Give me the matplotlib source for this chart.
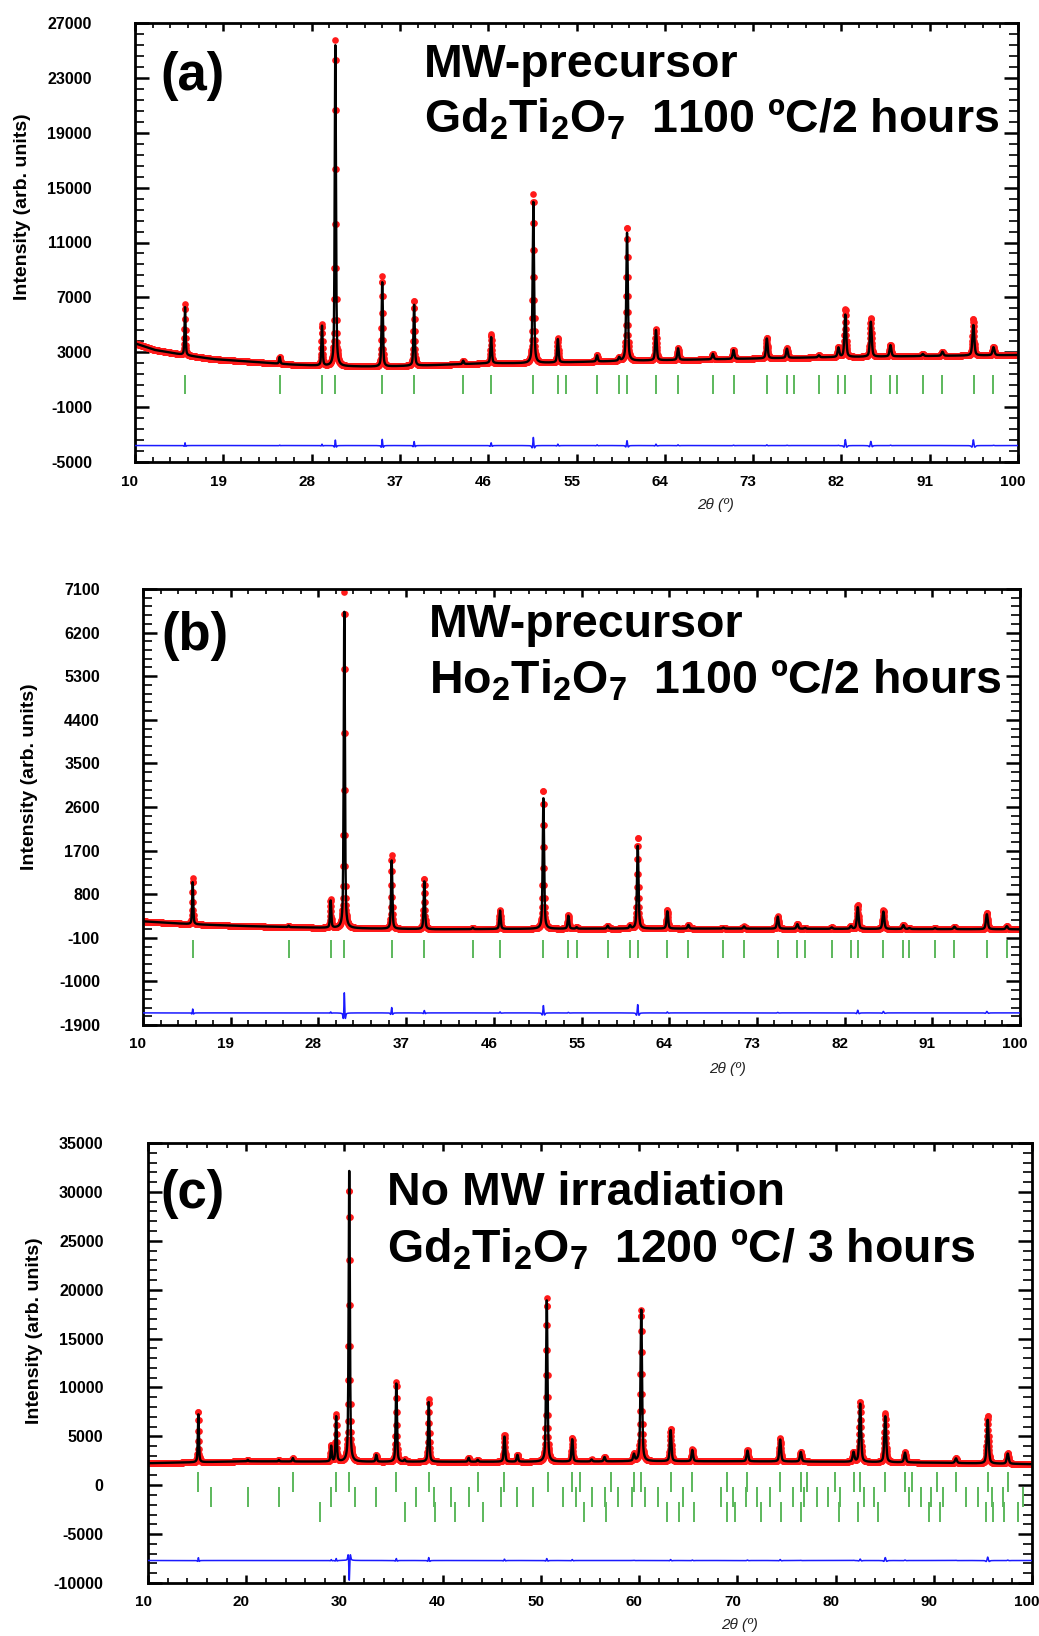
import numpy as np
import matplotlib
matplotlib.use('Agg')
import matplotlib.pyplot as plt
import matplotlib.transforms as mtrans
from matplotlib.ticker import FixedLocator

plt.rcParams['font.family'] = ['Liberation Sans', 'DejaVu Sans']
plt.rcParams['mathtext.fontset'] = 'custom'
plt.rcParams['mathtext.rm'] = 'Liberation Sans:bold'
plt.rcParams['mathtext.it'] = 'Liberation Sans:bold'
plt.rcParams['mathtext.bf'] = 'Liberation Sans:bold'
plt.rcParams['mathtext.default'] = 'rm'
plt.rcParams['axes.unicode_minus'] = False

# ---------------- Panel (a): MW-precursor Gd2Ti2O7 1100 C / 2 h ----------------
a_pos = [15.10, 24.75, 29.06, 30.42, 35.20, 38.45, 43.45, 46.30, 50.60, 53.10,
         57.10, 59.35, 60.15, 63.10, 65.35, 68.90, 71.00, 74.40, 76.45, 79.70,
         81.70, 82.40, 85.00, 87.00, 90.30, 92.30, 95.45, 97.50]
a_obs = [3700, 530, 3000, 23800, 6600, 4800, 250, 2100, 12340, 1800,
         500, 250, 9780, 2300, 900, 400, 680, 1500, 700, 150,
         700, 3520, 2850, 850, 150, 300, 2650, 610]
a_calc = [3500, 500, 2900, 23400, 6150, 4500, 250, 1900, 11750, 1700,
          450, 250, 9420, 2200, 850, 400, 650, 1450, 680, 150,
          680, 3090, 2550, 820, 150, 300, 2230, 590]
a_bg_x = [10, 12, 15, 18, 22, 26, 30, 35, 40, 46, 50, 60, 70, 80, 90, 100]
a_bg_y = [3650, 3170, 2800, 2500, 2300, 2100, 1980, 1950, 2050, 2200, 2200, 2370, 2500, 2630, 2720, 2800]
a_bragg = [15.10, 24.78, 29.06, 30.42, 35.20, 38.45, 43.45, 46.30, 50.60, 53.10,
           53.90, 57.10, 59.35, 60.10, 63.10, 65.35, 68.90, 71.04, 74.40, 76.50,
           77.20, 79.70, 81.70, 82.40, 85.00, 87.00, 87.70, 90.30, 92.30, 95.50, 97.50]
a_diff_offset = -3800
a_xticks = [10, 19, 28, 37, 46, 55, 64, 73, 82, 91, 100]
a_yticks = [-5000, -1000, 3000, 7000, 11000, 15000, 19000, 23000, 27000]

# ---------------- Panel (b): MW-precursor Ho2Ti2O7 1100 C / 2 h ----------------
b_pos = [15.10, 24.95, 29.26, 30.66, 35.52, 38.87, 43.84, 46.64, 51.09, 53.65,
         54.50, 57.69, 59.98, 60.77, 63.81, 65.97, 69.56, 71.68, 75.14, 77.15,
         77.94, 80.68, 82.66, 83.35, 85.98, 88.03, 88.65, 91.28, 93.27, 96.60, 98.65]
b_obs = [950, 30, 580, 6944, 1520, 1050, 30, 400, 2880, 280,
         30, 60, 60, 1900, 380, 75, 20, 45, 260, 95,
         20, 30, 60, 505, 390, 80, 20, 20, 50, 340, 65]
b_calc = [870, 30, 560, 6530, 1410, 1000, 30, 380, 2725, 270,
          30, 60, 60, 1725, 360, 75, 20, 45, 250, 95,
          20, 30, 60, 450, 360, 80, 20, 20, 50, 310, 65]
b_bg_x = [10, 12, 15, 20, 25, 30, 40, 50, 60, 70, 80, 90, 100]
b_bg_y = [240, 215, 180, 145, 120, 100, 75, 85, 90, 90, 85, 80, 75]
b_bragg = b_pos
b_diff_offset = -1650
b_xticks = [10, 19, 28, 37, 46, 55, 64, 73, 82, 91, 100]
b_yticks = [-1900, -1000, -100, 800, 1700, 2600, 3500, 4400, 5300, 6200, 7100]

# ---------------- Panel (c): No MW irradiation Gd2Ti2O7 1200 C / 3 h ----------------
c_pos = [15.13, 20.16, 23.32, 24.75, 28.65, 29.16, 30.49, 33.24, 35.28, 36.13,
         38.58, 42.65, 43.57, 46.29, 47.61, 50.60, 53.19, 55.16, 56.48, 59.47,
         60.22, 63.21, 65.42, 71.03, 74.36, 76.46, 81.83, 82.51, 85.06, 87.07,
         92.26, 95.49, 97.53]
c_obs = [5300, 150, 150, 350, 1700, 4800, 28100, 700, 8200, 200,
         6400, 400, 200, 2740, 700, 16700, 2400, 200, 450, 700,
         15500, 3300, 1200, 1150, 2350, 1000, 1000, 6150, 5000, 1050,
         500, 4850, 1100]
c_calc = [5000, 150, 150, 350, 1600, 4600, 30200, 700, 8000, 200,
          6100, 400, 200, 2600, 700, 16500, 2300, 200, 450, 680,
          15500, 3200, 1150, 1100, 2250, 980, 980, 6000, 4700, 1000,
          480, 4500, 1050]
c_bg_x = [10, 20, 30, 40, 50, 60, 70, 80, 90, 100]
c_bg_y = [2250, 2450, 2400, 2400, 2400, 2450, 2450, 2400, 2300, 2150]
c_bragg1 = [15.13, 24.75, 29.16, 30.49, 35.28, 38.58, 43.57, 46.29, 50.71, 53.19,
            53.97, 57.17, 59.47, 60.22, 63.21, 65.42, 68.99, 71.03, 74.36, 76.46,
            77.14, 79.93, 81.83, 82.51, 85.06, 87.07, 87.78, 90.33, 92.26, 95.49, 97.53]
c_bragg2 = [16.42, 20.16, 23.32, 28.65, 31.03, 33.24, 37.25, 39.15, 40.89, 42.65,
            45.98, 47.61, 49.21, 52.24, 53.60, 55.16, 56.48, 57.84, 59.24, 60.60,
            61.92, 64.50, 68.31, 69.60, 70.86, 72.05, 73.34, 75.65, 76.74, 78.10,
            79.25, 80.47, 82.85, 83.94, 87.50, 88.70, 89.71, 90.90, 93.28, 94.47,
            95.90, 97.02, 99.06]
c_bragg3 = [27.53, 36.13, 39.19, 41.30, 44.12, 54.40, 56.59, 62.80, 64.06, 65.59,
            68.99, 69.74, 72.39, 74.42, 76.53, 80.37, 82.31, 84.28, 89.54, 90.66,
            95.32, 96.07, 97.19, 98.55]
c_diff_offset = -7700
c_xticks = [10, 20, 30, 40, 50, 60, 70, 80, 90, 100]
c_yticks = [-10000, -5000, 0, 5000, 10000, 15000, 20000, 25000, 30000, 35000]

# ---------------- helpers ----------------
W, H = 1039, 1636
fig = plt.figure(figsize=(W / 100, H / 100), dpi=100)

RED = '#ff1a1a'
GREEN = '#5cb85c'
BLUE = '#1a1aff'


def pv(x, x0, h, w, eta=0.5):
    d = (x - x0) / (w / 2.0)
    return h * (eta / (1 + d ** 2) + (1 - eta) * np.exp(-np.log(2) * d ** 2))


def patterns(tt, pos, obs, calc, bgx, bgy):
    bg = np.interp(tt, bgx, bgy)
    yo = bg.copy()
    yc = bg.copy()
    for p, ho, hc in zip(pos, obs, calc):
        wc = 0.11 + 0.0012 * p
        wo = wc * hc / ho
        yo += pv(tt, p, ho, wo)
        yc += pv(tt, p, hc, wc)
    return yo, yc


def axes_px(l, r, t, b):
    return fig.add_axes([l / W, 1 - b / H, (r - l) / W, (b - t) / H])


def style(ax, xticks, nxmin, yticks, nymin, ypad):
    for s in ax.spines.values():
        s.set_linewidth(2.0)
    xt = np.array(xticks, float)
    yt = np.array(yticks, float)
    dx = (xt[1] - xt[0]) / nxmin
    dy = (yt[1] - yt[0]) / nymin
    ax.xaxis.set_major_locator(FixedLocator(xt))
    ax.xaxis.set_minor_locator(FixedLocator(np.arange(xt[0], xt[-1] + 1e-9, dx)))
    ax.yaxis.set_major_locator(FixedLocator(yt))
    ax.yaxis.set_minor_locator(FixedLocator(np.arange(yt[0], yt[-1] + 1e-9, dy)))
    ax.set_xticklabels([f'{v:g}' for v in xt])
    ax.set_yticklabels([f'{v:g}' for v in yt])
    ax.tick_params(which='both', direction='in', top=True, right=True)
    ax.tick_params(axis='x', which='major', length=6, width=1.8, pad=9)
    ax.tick_params(axis='x', which='minor', length=3.5, width=1.2)
    ax.tick_params(axis='y', which='major', length=10, width=1.8, pad=ypad)
    ax.tick_params(axis='y', which='minor', length=6.5, width=1.2)
    shift = mtrans.ScaledTranslation(-5 / 100, 0, fig.dpi_scale_trans)
    for lab in ax.get_xticklabels():
        lab.set_fontweight('bold')
        lab.set_fontsize(11)
        lab.set_transform(lab.get_transform() + shift)
    for lab in ax.get_yticklabels():
        lab.set_fontweight('bold')
        lab.set_fontsize(11.5)


tt = np.arange(10.0, 100.0001, 0.02)


def panel(ax, pos, obs, calc, bgx, bgy, offset, bragg_rows):
    yo, yc = patterns(tt, pos, obs, calc, bgx, bgy)
    ax.plot(tt, yo, 'o', ms=4.8, color=RED, mec='none', zorder=2)
    ax.plot(tt, yc, '-', color='black', lw=1.7, zorder=3)
    ax.plot(tt, yo - yc + offset, '-', color=BLUE, lw=1.1, zorder=3)
    for xs, lo, hi in bragg_rows:
        ax.vlines(xs, lo, hi, color=GREEN, lw=1.4, zorder=2)
    ax.set_xlim(10, 100)


def ftext(x, y, s, **kw):
    fig.text(x / W, 1 - y / H, s, **kw)


# ---------------- (a) ----------------
axa = axes_px(135, 1018, 23, 462)
panel(axa, a_pos, a_obs, a_calc, a_bg_x, a_bg_y, a_diff_offset, [(a_bragg, -40, 1340)])
axa.set_ylim(-5000, 27000)
style(axa, a_xticks, 5, a_yticks, 5, 31)

# ---------------- (b) ----------------
axb = axes_px(143, 1020, 589, 1025)
panel(axb, b_pos, b_obs, b_calc, b_bg_x, b_bg_y, b_diff_offset, [(b_bragg, -520, -150)])
axb.set_ylim(-1900, 7100)
style(axb, b_xticks, 5, b_yticks, 5, 31)

# ---------------- (c) ----------------
axc = axes_px(148, 1032, 1143, 1583)
panel(axc, c_pos, c_obs, c_calc, c_bg_x, c_bg_y, c_diff_offset,
      [(c_bragg1, -650, 1400), (c_bragg2, -2200, -150), (c_bragg3, -3730, -1700)])
axc.set_ylim(-10000, 35000)
style(axc, c_xticks, 5, c_yticks, 5, 32)

# ---------------- texts ----------------
big = dict(fontsize=33.5, fontweight='bold', ha='left', va='baseline')
lab = dict(fontsize=38, fontweight='bold', ha='left', va='baseline')

ftext(160, 90, '(a)', **lab)
ftext(424, 77, 'MW-precursor', **big)
ftext(424, 133, 'Gd$_2$Ti$_2$O$_7$  1100 ºC/2 hours', **big)

ftext(161, 650, '(b)', **lab)
ftext(429, 637, 'MW-precursor', **big)
ftext(429, 693, 'Ho$_2$Ti$_2$O$_7$  1100 ºC/2 hours', **big)

ftext(160, 1208, '(c)', **lab)
ftext(387, 1205, 'No MW irradiation', **big)
ftext(387, 1263, 'Gd$_2$Ti$_2$O$_7$  1200 ºC/ 3 hours', **big)

ylab = dict(fontsize=14, fontweight='bold', rotation=90, ha='center', va='center')
ftext(23, 207, 'Intensity (arb. units)', **ylab)
ftext(30, 777, 'Intensity (arb. units)', **ylab)
ftext(35, 1331, 'Intensity (arb. units)', **ylab)

xlab = dict(fontsize=11, style='italic', ha='center', va='center', color='#222222')
ftext(716, 505, '2θ (º)', **xlab)
ftext(728, 1069, '2θ (º)', **xlab)
ftext(740, 1625, '2θ (º)', **xlab)

fig.savefig('out.png', dpi=100)
